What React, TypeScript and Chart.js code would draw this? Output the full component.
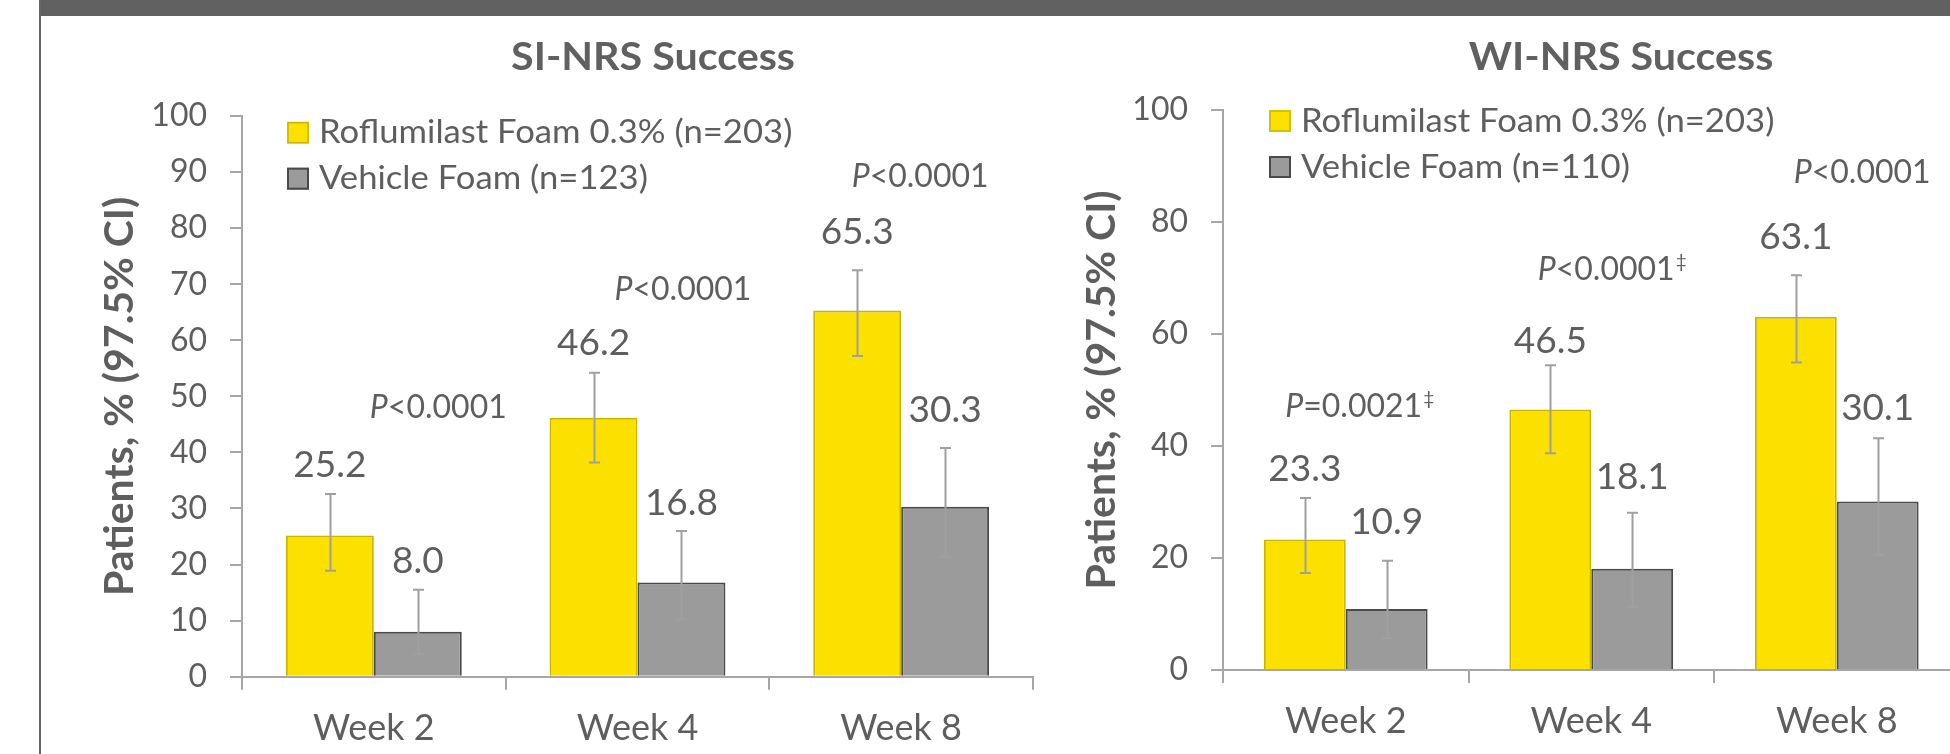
import React, { useEffect, useRef } from 'react';
import { Chart, registerables } from 'chart.js';

Chart.register(...registerables);

// ---------- data ----------
const categories = ['Week 2', 'Week 4', 'Week 8'];

const siTitle = 'SI-NRS Success';
const siSeriesNames = ['Roflumilast Foam 0.3% (n=203)', 'Vehicle Foam (n=123)'];
const siRoflumilast = [25.2, 46.2, 65.3];
const siRoflumilastLow = [18.9, 38.2, 57.2];
const siRoflumilastHigh = [32.6, 54.2, 72.5];
const siVehicle = [8.0, 16.8, 30.3];
const siVehicleLow = [4.0, 10.2, 21.4];
const siVehicleHigh = [15.5, 26.0, 40.8];
const siPValues = ['P<0.0001', 'P<0.0001', 'P<0.0001'];
const siTicks = [0, 10, 20, 30, 40, 50, 60, 70, 80, 90, 100];

const wiTitle = 'WI-NRS Success';
const wiSeriesNames = ['Roflumilast Foam 0.3% (n=203)', 'Vehicle Foam (n=110)'];
const wiRoflumilast = [23.3, 46.5, 63.1];
const wiRoflumilastLow = [17.3, 38.7, 54.9];
const wiRoflumilastHigh = [30.7, 54.4, 70.5];
const wiVehicle = [10.9, 18.1, 30.1];
const wiVehicleLow = [5.7, 11.3, 20.6];
const wiVehicleHigh = [19.5, 28.1, 41.4];
const wiPValues = ['P=0.0021‡', 'P<0.0001‡', 'P<0.0001'];
const wiTicks = [0, 20, 40, 60, 80, 100];

const yAxisTitle = 'Patients, % (97.5% CI)';

// ---------- styles ----------
const FONT = 'Lato';
const TEXT = '#5E5E5E';
const AXIS = '#A6A6A6';
const YELLOW = '#FCE000';
const YELLOW_BORDER = '#C9B600';
const GRAY = '#9B9B9B';
const GRAY_BORDER = '#4A4A4A';
const ERR = '#A0A0A0';

type PanelLayout = {
  left: number;
  width: number;
  padLeft: number;
  padRight: number;
  padTop: number;
  yAxisWidth: number;
  xAxisHeight: number;
  titleX: number;
  legendX: number;
  legendY: number;
  pDx: number[];
  pY: number[];
  labelGap: number[][];
};

const H = 754;
const Y_TITLE_SIZE = 41;
const Y_TITLE_HALF = (Y_TITLE_SIZE * 1.2) / 2;

const siLayout: PanelLayout = {
  left: 0,
  width: 1060,
  padLeft: 120 - Y_TITLE_HALF,
  padRight: 27,
  padTop: 116,
  yAxisWidth: 242 - (120 - Y_TITLE_HALF),
  xAxisHeight: 754 - 676.7,
  titleX: 653,
  legendX: 287,
  legendY: 121.7,
  pDx: [20.5, 1.5, -25],
  pY: [46.1, 67.2, 87.4],
  labelGap: [[17, 18, 26], [17, 16, 26]],
};

const wiLayout: PanelLayout = {
  left: 1060,
  width: 950,
  padLeft: 41.5 - Y_TITLE_HALF,
  padRight: 50.5,
  padTop: 110,
  yAxisWidth: 163 - (41.5 - Y_TITLE_HALF),
  xAxisHeight: 754 - 670,
  titleX: 1621 - 1060,
  legendX: 1269 - 1060,
  legendY: 110,
  pDx: [-27, -20, -15.5],
  pY: [45.2, 69.6, 86.9],
  labelGap: [[17, 12, 26], [27, 24, 18]],
};

type PanelProps = {
  title: string;
  names: string[];
  values: number[][];
  lows: number[][];
  highs: number[][];
  pValues: string[];
  ticks: number[];
  layout: PanelLayout;
};

function drawPText(ctx: CanvasRenderingContext2D, text: string, cx: number, baseline: number) {
  const size = 32;
  const hasDagger = text.endsWith('‡');
  const first = text.charAt(0);
  const rest = hasDagger ? text.slice(1, -1) : text.slice(1);
  ctx.save();
  ctx.textBaseline = 'alphabetic';
  ctx.textAlign = 'left';
  ctx.fillStyle = TEXT;
  ctx.font = `italic ${size}px ${FONT}`;
  const w1 = ctx.measureText(first).width;
  ctx.font = `${size}px ${FONT}`;
  const w2 = ctx.measureText(rest).width;
  ctx.font = `${Math.round(size * 0.6)}px ${FONT}`;
  const w3 = hasDagger ? ctx.measureText('‡').width + 1 : 0;
  let x = cx - (w1 + w2 + w3) / 2;
  ctx.font = `italic ${size}px ${FONT}`;
  ctx.fillText(first, x, baseline);
  x += w1;
  ctx.font = `${size}px ${FONT}`;
  ctx.fillText(rest, x, baseline);
  x += w2;
  if (hasDagger) {
    ctx.font = `${Math.round(size * 0.6)}px ${FONT}`;
    ctx.fillText('‡', x + 1, baseline - size * 0.38);
  }
  ctx.restore();
}

function Panel({ title, names, values, lows, highs, pValues, ticks, layout }: PanelProps) {
  const ref = useRef<HTMLCanvasElement | null>(null);

  useEffect(() => {
    const canvas = ref.current;
    if (!canvas) return;

    const overlay = {
      id: 'overlay',
      afterDatasetsDraw(chart: any) {
        const ctx: CanvasRenderingContext2D = chart.ctx;
        const y = chart.scales.y;
        // error bars
        ctx.save();
        ctx.strokeStyle = ERR;
        ctx.lineWidth = 2;
        for (let d = 0; d < values.length; d++) {
          const meta = chart.getDatasetMeta(d);
          meta.data.forEach((bar: any, i: number) => {
            const x = Math.round(bar.x) + 0.5;
            const yl = y.getPixelForValue(lows[d][i]);
            const yh = y.getPixelForValue(highs[d][i]);
            ctx.beginPath();
            ctx.moveTo(x, yl);
            ctx.lineTo(x, yh);
            ctx.moveTo(x - 5.5, yh);
            ctx.lineTo(x + 5.5, yh);
            ctx.moveTo(x - 5.5, yl);
            ctx.lineTo(x + 5.5, yl);
            ctx.stroke();
          });
        }
        ctx.restore();

        // value labels
        ctx.save();
        ctx.fillStyle = TEXT;
        ctx.font = `37px ${FONT}`;
        ctx.textAlign = 'center';
        ctx.textBaseline = 'alphabetic';
        for (let d = 0; d < values.length; d++) {
          const meta = chart.getDatasetMeta(d);
          meta.data.forEach((bar: any, i: number) => {
            const yh = y.getPixelForValue(highs[d][i]);
            ctx.fillText(values[d][i].toFixed(1), bar.x, yh - layout.labelGap[d][i]);
          });
        }
        ctx.restore();

        // p-values
        const grayMeta = chart.getDatasetMeta(1);
        pValues.forEach((p, i) => {
          const bx = grayMeta.data[i].x;
          drawPText(ctx, p, bx + layout.pDx[i], y.getPixelForValue(layout.pY[i]));
        });

        // title
        ctx.save();
        ctx.fillStyle = '#606060';
        ctx.font = `bold 38px ${FONT}`;
        ctx.textAlign = 'center';
        ctx.textBaseline = 'alphabetic';
        ctx.translate(layout.titleX, 70);
        ctx.scale(1.085, 1);
        ctx.fillText(title, 0, 0);
        ctx.restore();

        // legend
        ctx.save();
        const fills = [YELLOW, GRAY];
        const borders = [YELLOW_BORDER, GRAY_BORDER];
        names.forEach((n, k) => {
          const top = layout.legendY + k * 46;
          ctx.fillStyle = fills[k];
          ctx.fillRect(layout.legendX, top, 22, 22);
          ctx.strokeStyle = borders[k];
          ctx.lineWidth = k === 0 ? 1.5 : 2;
          ctx.strokeRect(layout.legendX + 1, top + 1, 20, 20);
          ctx.save();
          ctx.fillStyle = TEXT;
          ctx.font = `33px ${FONT}`;
          ctx.textAlign = 'left';
          ctx.textBaseline = 'alphabetic';
          ctx.translate(layout.legendX + 32, top + 21.5);
          ctx.scale(1.05, 1);
          ctx.fillText(n, 0, 0);
          ctx.restore();
        });
        ctx.restore();
      },
    };

    const chart = new Chart(canvas, {
      type: 'bar',
      data: {
        labels: categories,
        datasets: [
          {
            label: names[0],
            data: values[0],
            backgroundColor: YELLOW,
            borderColor: YELLOW_BORDER,
            borderWidth: 2,
            categoryPercentage: 0.667,
            barPercentage: 1.0,
          },
          {
            label: names[1],
            data: values[1],
            backgroundColor: GRAY,
            borderColor: GRAY_BORDER,
            borderWidth: 2,
            categoryPercentage: 0.667,
            barPercentage: 1.0,
          },
        ],
      },
      options: {
        animation: false,
        responsive: false,
        devicePixelRatio: 1,
        layout: {
          padding: { left: layout.padLeft, right: layout.padRight, top: layout.padTop, bottom: 0 },
        },
        plugins: {
          legend: { display: false },
          tooltip: { enabled: false },
          title: { display: false },
        },
        scales: {
          x: {
            grid: {
              offset: true,
              drawOnChartArea: false,
              drawTicks: true,
              tickLength: 13,
              color: AXIS,
              lineWidth: 2,
            },
            border: { display: true, color: AXIS, width: 2 },
            ticks: {
              color: TEXT,
              font: { family: FONT, size: 36 },
              padding: 17,
            },
            afterFit: (s: any) => {
              s.height = layout.xAxisHeight;
            },
          },
          y: {
            min: 0,
            max: 100,
            afterBuildTicks: (s: any) => {
              s.ticks = ticks.map((v) => ({ value: v }));
            },
            grid: {
              drawOnChartArea: false,
              drawTicks: true,
              tickLength: 12,
              color: AXIS,
              lineWidth: 2,
            },
            border: { display: true, color: AXIS, width: 2 },
            ticks: {
              color: TEXT,
              font: { family: FONT, size: 32 },
              padding: 23,
            },
            title: {
              display: true,
              text: yAxisTitle,
              color: TEXT,
              font: { family: FONT, size: Y_TITLE_SIZE, weight: 'bold' },
              padding: { top: 0, bottom: 0 },
            },
            afterFit: (s: any) => {
              s.width = layout.yAxisWidth;
            },
          },
        },
      },
      plugins: [overlay],
    } as any);

    return () => {
      chart.destroy();
    };
  }, []);

  return (
    <canvas
      ref={ref}
      width={layout.width}
      height={H}
      style={{ position: 'absolute', left: layout.left, top: 0, width: layout.width, height: H }}
    />
  );
}

export default function App() {
  return (
    <div
      style={{
        position: 'fixed',
        left: 0,
        top: 0,
        width: 1950,
        height: 754,
        overflow: 'hidden',
        background: '#FFFFFF',
      }}
    >
      <Panel
        title={siTitle}
        names={siSeriesNames}
        values={[siRoflumilast, siVehicle]}
        lows={[siRoflumilastLow, siVehicleLow]}
        highs={[siRoflumilastHigh, siVehicleHigh]}
        pValues={siPValues}
        ticks={siTicks}
        layout={siLayout}
      />
      <Panel
        title={wiTitle}
        names={wiSeriesNames}
        values={[wiRoflumilast, wiVehicle]}
        lows={[wiRoflumilastLow, wiVehicleLow]}
        highs={[wiRoflumilastHigh, wiVehicleHigh]}
        pValues={wiPValues}
        ticks={wiTicks}
        layout={wiLayout}
      />
      <div style={{ position: 'absolute', left: 40, top: 0, width: 1910, height: 16, background: '#616161' }} />
      <div style={{ position: 'absolute', left: 39, top: 0, width: 2, height: 754, background: '#666666' }} />
    </div>
  );
}
